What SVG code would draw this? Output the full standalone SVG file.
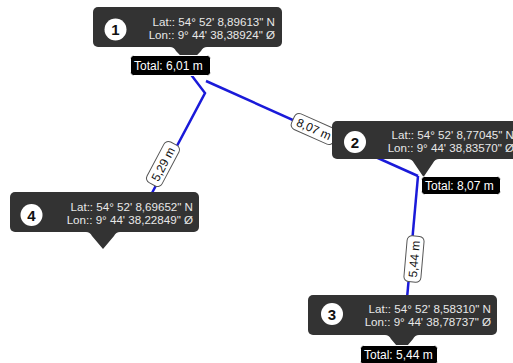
<svg xmlns="http://www.w3.org/2000/svg" width="513" height="363" viewBox="0 0 513 363">
<style>
.bg{fill:#fff}
.tip{fill:#333333}
.num{fill:#fff}
.numt{font-family:"Liberation Sans",Arial,sans-serif;font-size:15px;font-weight:bold;fill:#111;text-anchor:middle}
.coord{font-family:"Liberation Sans",Arial,sans-serif;font-size:11.6px;fill:#e8e8e8;text-anchor:end}
.tot{fill:#000;stroke:#fff;stroke-width:1}
.tott{font-family:"Liberation Sans",Arial,sans-serif;font-size:12px;fill:#fff}
.seg{fill:none;stroke:#1a1ad9;stroke-width:2.5;stroke-linejoin:miter}
.lab{fill:#fff;stroke:#555;stroke-width:1}
.labt{font-family:"Liberation Sans",Arial,sans-serif;font-size:12px;fill:#111;text-anchor:middle}
</style>
<rect class="bg" x="0" y="0" width="513" height="363"/>
<g id="connectors">
<polyline class="seg" points="189,72 205,93 135,225"/>
<line class="seg" x1="206" y1="81" x2="418" y2="176"/>
<line class="seg" x1="418" y1="176" x2="403" y2="343"/>
<g transform="translate(163,164) rotate(-62)"><rect class="lab" x="-23" y="-8.5" width="46" height="17" rx="5"/><text class="labt" x="0" y="4.3">5,29 m</text></g>
<g transform="translate(314,129) rotate(24)"><rect class="lab" x="-23" y="-8.5" width="46" height="17" rx="5"/><text class="labt" x="0" y="4.3">8,07 m</text></g>
<g transform="translate(414,259) rotate(-85)"><rect class="lab" x="-23" y="-8.5" width="46" height="17" rx="5"/><text class="labt" x="0" y="4.3">5,44 m</text></g>
</g>
<g id="node1">
<rect class="tip" x="93" y="7" width="189" height="40" rx="5"/>
<path class="tip" d="M170,47 Q174,47 176,51 L188.5,64 L201,51 Q203,47 207,47 Z"/>
<circle class="num" cx="115.5" cy="29.5" r="11"/>
<text class="numt" x="115.5" y="35">1</text>
<text class="coord" x="275" y="26">Lat:: 54° 52' 8,89613" N</text>
<text class="coord" x="275" y="39">Lon:: 9° 44' 38,38924" Ø</text>
<rect class="tot" x="130.5" y="55.5" width="80" height="20" rx="3"/>
<text class="tott" x="134" y="70">Total: 6,01 m</text>
</g>
<g id="node2">
<rect class="tip" x="332" y="121" width="189" height="38" rx="5"/>
<path class="tip" d="M408,159 Q412,159 414,163 L423.5,177 L433,163 Q435,159 439,159 Z"/>
<circle class="num" cx="355" cy="142" r="11"/>
<text class="numt" x="355" y="147.5">2</text>
<text class="coord" x="514" y="139">Lat:: 54° 52' 8,77045" N</text>
<text class="coord" x="514" y="152">Lon:: 9° 44' 38,83570" Ø</text>
<rect class="tot" x="421.5" y="176.5" width="79" height="18" rx="3"/>
<text class="tott" x="425" y="190">Total: 8,07 m</text>
</g>
<g id="node3">
<rect class="tip" x="308" y="295" width="189" height="40" rx="5"/>
<path class="tip" d="M385,335 Q389,335 391,339 L402,352 L413,339 Q415,335 419,335 Z"/>
<circle class="num" cx="332" cy="314" r="11"/>
<text class="numt" x="332" y="319.5">3</text>
<text class="coord" x="491" y="313">Lat:: 54° 52' 8,58310" N</text>
<text class="coord" x="491" y="326">Lon:: 9° 44' 38,78737" Ø</text>
<rect class="tot" x="360.5" y="345.5" width="77" height="19" rx="3"/>
<text class="tott" x="364" y="359">Total: 5,44 m</text>
</g>
<g id="node4">
<rect class="tip" x="10" y="192" width="189" height="40" rx="5"/>
<path class="tip" d="M86,232 Q90,232 92,236 L103,249 L114,236 Q116,232 120,232 Z"/>
<circle class="num" cx="31.5" cy="215" r="11"/>
<text class="numt" x="31.5" y="220.5">4</text>
<text class="coord" x="193" y="211">Lat:: 54° 52' 8,69652" N</text>
<text class="coord" x="193" y="224">Lon:: 9° 44' 38,22849" Ø</text>
</g>
</svg>
